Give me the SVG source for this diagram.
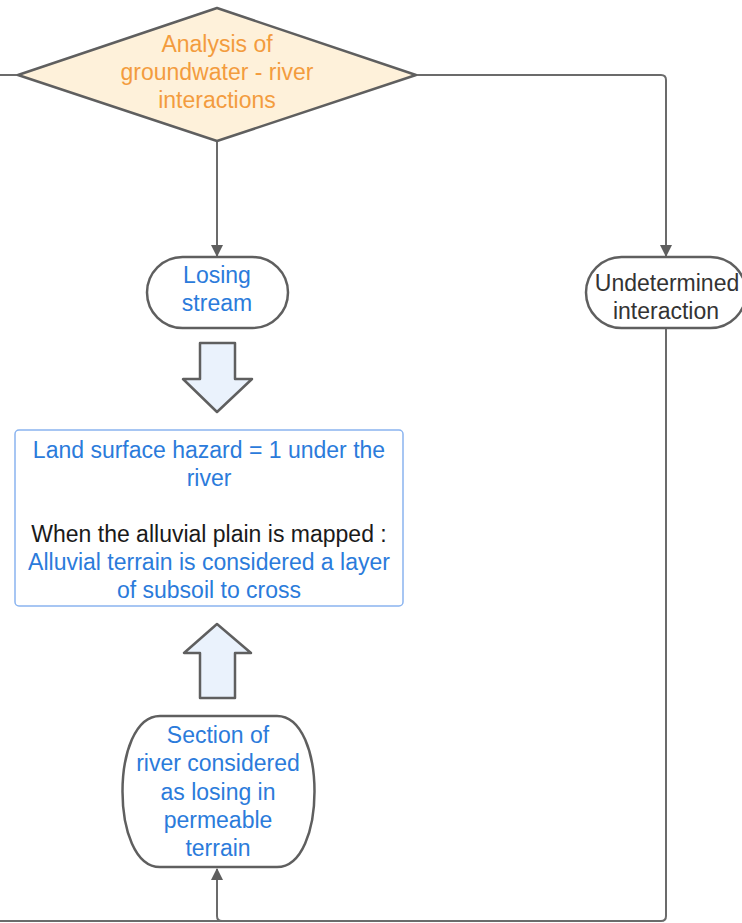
<svg xmlns="http://www.w3.org/2000/svg" width="742" height="923" viewBox="0 0 742 923">
<style>
text{font-family:"Liberation Sans",Arial,sans-serif;font-size:23px;text-anchor:middle}
.b{fill:#2B7BDB}.o{fill:#F39C3E}.k{fill:#1a1a1a}.g{fill:#333}
.node{fill:#fff;stroke:#5f5f5f;stroke-width:2.5}
.conn{fill:none;stroke:#6b6b6b;stroke-width:2}
.blk{fill:#EAF2FC;stroke:#5f5f5f;stroke-width:2.5;stroke-linejoin:round}
</style>
<defs>
<marker id="ah" markerWidth="12" markerHeight="14" refX="11" refY="7" orient="auto" markerUnits="userSpaceOnUse">
<path d="M0,1 L12,7 L0,13 Z" fill="#5f5f5f"/>
</marker>
</defs>
<g id="connectors">
<path class="conn" d="M0,75 L18,75"/>
<path class="conn" d="M217,141 L217,256" marker-end="url(#ah)"/>
<path class="conn" d="M416,75 L661,75 Q666,75 666,80 L666,256" marker-end="url(#ah)"/>
<path class="conn" d="M666,328 L666,916 Q666,921 661,921 L0,921"/>
<path class="conn" d="M222,921 Q217,921 217,916 L217,869" marker-end="url(#ah)"/>
</g>
<g id="decision">
<path d="M217,8 L416,75 L217,141 L18,75 Z" fill="#FEF1DA" stroke="#5f5f5f" stroke-width="2.5" stroke-linejoin="round"/>
<text class="o" x="217" y="52">Analysis of</text>
<text class="o" x="217" y="80">groundwater - river</text>
<text class="o" x="217" y="108">interactions</text>
</g>
<g id="losing">
<rect class="node" x="147" y="257" width="141" height="71" rx="35.5"/>
<text class="b" x="217" y="283">Losing</text>
<text class="b" x="217" y="311">stream</text>
</g>
<g id="undetermined">
<rect class="node" x="586" y="257" width="160" height="71" rx="35.5"/>
<text class="g" x="667" y="291">Undetermined</text>
<text class="g" x="666" y="319">interaction</text>
</g>
<g id="arrowdown">
<path class="blk" d="M200,343 L235,343 L235,379 L252,379 L217,412 L183,379 L200,379 Z"/>
</g>
<g id="hazard">
<rect x="15" y="430" width="388" height="176" rx="4" fill="#fff" stroke="#8AB4F0" stroke-width="1.5"/>
<text class="b" x="209" y="458">Land surface hazard = 1 under the</text>
<text class="b" x="209" y="486">river</text>
<text class="k" x="209" y="542">When the alluvial plain is mapped :</text>
<text class="b" x="209" y="570">Alluvial terrain is considered a layer</text>
<text class="b" x="209" y="598">of subsoil to cross</text>
</g>
<g id="arrowup">
<path class="blk" d="M200,698 L235,698 L235,653 L251,653 L217,624 L184,653 L200,653 Z"/>
</g>
<g id="section">
<path class="node" d="M160,716 L277,716 C327,716 327,867 277,867 L160,867 C110,867 110,716 160,716 Z"/>
<text class="b" x="218" y="743">Section of</text>
<text class="b" x="218" y="771">river considered</text>
<text class="b" x="218" y="800">as losing in</text>
<text class="b" x="218" y="828">permeable</text>
<text class="b" x="218" y="856">terrain</text>
</g>
</svg>
